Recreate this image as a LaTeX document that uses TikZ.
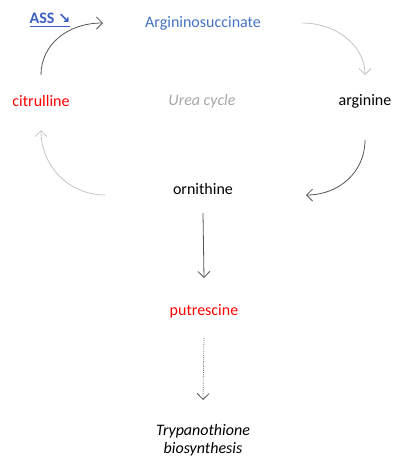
\documentclass[tikz,border=0pt]{standalone}
\usepackage{fontspec}
\setmainfont{Carlito}
\newfontfamily\symfont{DejaVu Sans}
\usetikzlibrary{arrows.meta,calc}
\definecolor{ublue}{HTML}{4472C4}
\definecolor{assblue}{HTML}{3A5FC0}
\definecolor{lightarr}{HTML}{C4C4C4}
\definecolor{darkarr}{HTML}{555555}
\definecolor{ureagray}{HTML}{A6A6A6}
\tikzset{
  lbl/.style={font=\fontsize{12}{13.5}\selectfont, inner sep=1pt},
  arr/.style={-{Straight Barb[length=4.5pt,width=9pt]}, line width=0.6pt},
  darkc/.style={arr, draw=darkarr},
  lightc/.style={arr, draw=lightarr},
}
\begin{document}
\begin{tikzpicture}[x=0.75pt,y=-0.75pt]
\useasboundingbox (0,0) rectangle (393,457);
\node[lbl, text=assblue, font=\fontsize{12}{13.5}\selectfont\bfseries] (ass) at (50,20) {\underline{ASS {\symfont\fontsize{11}{13}\selectfont ↘}}};
\node[lbl, text=ublue] (argsuc) at (203,23) {Argininosuccinate};
\node[lbl, text=red] (cit) at (41,101) {citrulline};
\node[lbl, text=ureagray, font=\fontsize{12}{13.5}\selectfont\itshape] (urea) at (202,101) {Urea cycle};
\node[lbl] (arg) at (365,101) {arginine};
\node[lbl] (orn) at (203,189) {ornithine};
\node[lbl, text=red] (put) at (204,311) {putrescine};
\node[lbl, font=\fontsize{12}{13.5}\selectfont\itshape, align=center] (try) at (203,440) {Trypanothione\\biosynthesis};

\draw[darkc] ($(cit.center)+(0,-26)$) .. controls +(0,-30) and +(-36,0) .. ($(argsuc.center)+(-100,0)$);
\draw[lightc] ($(argsuc.center)+(99,0)$) .. controls +(36,0) and +(0,-28) .. ($(arg.center)+(0,-26)$);
\draw[darkc] ($(arg.center)+(0,39)$) .. controls +(0,32) and +(33,0) .. ($(orn.center)+(103,6)$);
\draw[lightc] ($(orn.center)+(-98,6)$) .. controls +(-36,0) and +(0,36) .. ($(cit.center)+(0,29)$);
\draw[darkc] ($(orn.center)+(0,24)$) -- ($(put.center)+(0,-33)$);
\draw[darkc, densely dotted] ($(put.center)+(0,27)$) -- ($(try.center)+(0,-40)$);
\end{tikzpicture}
\end{document}
